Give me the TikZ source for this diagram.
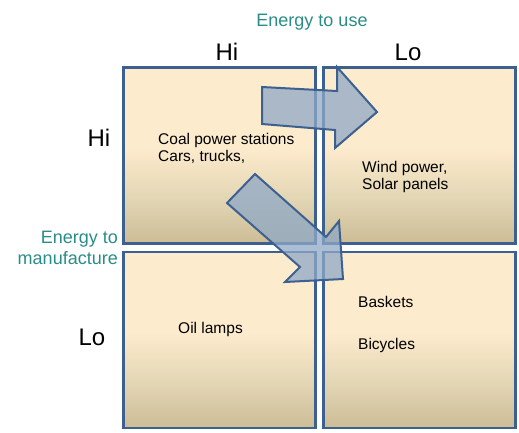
\documentclass[tikz,border=0pt]{standalone}
\usepackage{fontspec}
\setmainfont{Liberation Sans}
\usetikzlibrary{positioning}
\definecolor{frame}{HTML}{3C6191}
\definecolor{teal}{HTML}{2A8C88}
\definecolor{arrowfill}{HTML}{8FA8C6}
\pgfdeclareverticalshading{cellshade}{100bp}{rgb(0bp)=(0.8,0.74,0.59); rgb(25bp)=(0.8,0.74,0.59);
  rgb(38bp)=(0.89,0.84,0.71); rgb(52bp)=(0.99,0.92,0.8); rgb(100bp)=(0.99,0.92,0.8)}
\tikzset{
  cell/.style={rectangle, draw=frame, line width=2.4pt, shading=cellshade,
    minimum width=192pt, minimum height=176pt, inner sep=0pt},
  axis/.style={font=\fontsize{18}{21}\selectfont, text=teal, inner sep=1pt},
  level/.style={font=\fontsize{24}{28}\selectfont, inner sep=1pt},
  entry/.style={font=\fontsize{15.5}{17}\selectfont, align=left, anchor=north west, inner sep=0pt},
  blockarrow/.style={draw=frame, line width=2pt, fill=arrowfill, fill opacity=0.75, line join=miter},
}
\begin{document}
\begin{tikzpicture}[x=1pt, y=-1pt]
  \useasboundingbox (0,0) rectangle (519,432);
  % four quadrants
  \node[cell] (tl) at (219.5,155.5) {};
  \node[cell] (tr) at (419.5,155.5) {};
  \node[cell] (bl) at (219.5,340) {};
  \node[cell] (br) at (419.5,340) {};
  % headings
  \node[axis] (use) at (312,22) {Energy to use};
  \node[level] (hitop) at (227,52) {Hi};
  \node[level] (lotop) at (408,52) {Lo};
  \node[level] (hileft) at (99,138) {Hi};
  \node[level] (loleft) at (92,337) {Lo};
  \node[axis, align=right, anchor=east] (make) at (119,248) {Energy to\\manufacture};
  % entries
  \node[entry] (coal) at (158,133) {Coal power stations\\Cars, trucks,};
  \node[entry] (wind) at (362,161) {Wind power,\\Solar panels};
  \node[entry] (oil) at (178,322) {Oil lamps};
  \node[entry] (bask) at (358,296) {Baskets};
  \node[entry] (bike) at (358,338) {Bicycles};
  % arrows
  \draw[blockarrow] (262,87) -- (337,91) -- (337,67) -- (377,112) -- (335,148) -- (335,130)
    -- (262,124) -- cycle;
  \draw[blockarrow] (255,174) -- (326,237) -- (339,221) -- (343,279) -- (285,282) -- (300,267)
    -- (227,203) -- cycle;
\end{tikzpicture}
\end{document}
